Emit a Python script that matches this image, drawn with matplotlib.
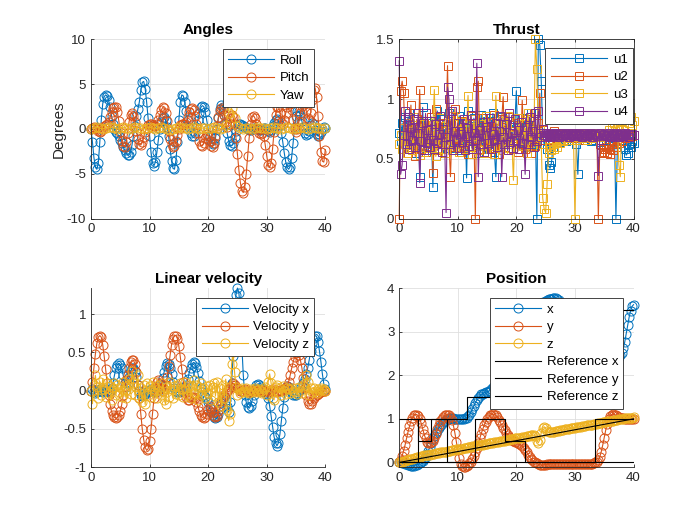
import numpy as np
import matplotlib
matplotlib.use("Agg")
import matplotlib.pyplot as plt
from matplotlib.ticker import FuncFormatter

plt.rcParams["font.family"] = ["Liberation Sans", "DejaVu Sans"]
plt.rcParams["axes.unicode_minus"] = False

# every series is sampled uniformly from 0 to 40 s
# angles (deg), 0.25 s
roll = [0.0, -1.5, -3.2, -4.3, -4.5, -3.8, -1.5, 1.0, 2.8, 3.6, 3.8, 3.7, 3.2, 2.4, 1.5, 0.6, 0.0, -0.3, -0.5, -0.8,
        -1.2, -1.6, -2.0, -2.4, -2.7, -2.9, -2.9, -2.6, -1.8, -0.8, 0.3, 1.4, 2.2, 3.0, 4.3, 5.2, 5.3, 4.5, 3.0, 1.2,
        -0.8, -2.6, -3.8, -4.1, -3.7, -2.6, -1.2, 0.0, 0.8, 1.2, 1.3, 1.0, 0.2, -0.8, -2.2, -3.6, -4.4, -4.5, -3.5, -1.5,
        1.0, 3.0, 3.8, 3.7, 3.0, 2.0, 1.0, 0.2, -0.4, -0.8, -0.8, -0.5, 0.2, 1.0, 1.8, 2.4, 2.6, 2.5, 1.9, 1.0,
        0.0, -0.8, -1.4, -1.7, -1.6, -1.0, 0.0, 1.2, 2.2, 2.7, 2.5, 1.6, 0.5, -0.5, -1.3, -1.8, -1.9, -1.6, -0.9, -0.2,
        0.3, 0.5, 0.5, 0.4, 0.3, 0.2, 0.1, 0.0, -0.1, -0.1, 0.0, 0.1, 0.1, 0.1, 0.0, -0.1, -0.1, 0.0, 0.1, 0.1,
        0.0, -0.2, -0.3, -0.1, 0.3, 0.7, 1.0, 1.1, 0.9, 0.4, -0.4, -1.5, -2.7, -3.7, -4.3, -4.5, -4.2, -3.2, -1.6, 0.2,
        1.5, 2.0, 2.0, 1.6, 0.9, 0.2, -0.4, -0.7, -0.6, -0.2, 0.4, 0.7, 0.5, -0.1, -0.6, -0.8, -0.6, -0.3, 0.0, 0.2,
        0.1]
pitch = [0.0, 0.1, 0.2, 0.1, 0.0, -0.2, -0.3, -0.2, 0.0, 0.3, 0.4, 0.5, 0.8, 1.3, 1.9, 2.3, 2.5, 2.4, 1.9, 0.9,
         -0.3, -1.3, -1.9, -2.0, -1.5, -0.4, 0.8, 1.6, 1.8, 1.5, 0.8, -0.2, -1.1, -1.7, -1.8, -1.5, -0.9, -0.3, 0.1, 0.4,
         0.5, 0.5, 0.4, 0.3, 0.3, 0.5, 1.0, 1.6, 2.1, 2.4, 2.3, 1.8, 0.9, -0.2, -1.1, -1.7, -2.0, -1.9, -1.4, -0.7,
         0.0, 0.4, 0.5, 0.5, 0.6, 0.8, 1.3, 1.9, 2.2, 2.3, 2.1, 1.4, 0.5, -0.5, -1.3, -1.8, -1.9, -1.6, -1.0, -0.6,
         -0.8, -1.4, -1.9, -2.0, -1.6, -0.8, 0.3, 1.3, 2.0, 2.3, 2.2, 1.6, 0.8, 0.2, 0.5, 1.2, 1.6, 1.3, 0.5, -1.0,
         -2.8, -4.6, -6.0, -6.9, -7.1, -6.5, -5.0, -3.0, -1.0, 0.5, 1.3, 1.5, 1.2, 0.6, 0.0, -0.4, -0.6, -0.5, -0.8, -1.8,
         -3.0, -4.0, -4.3, -3.8, -2.2, -0.3, 1.6, 2.4, 2.5, 1.8, 0.8, 0.6, 1.0, 1.8, 2.5, 2.9, 2.8, 2.1, 1.0, 0.0,
         -0.3, 0.0, 0.8, 1.8, 2.6, 3.0, 2.8, 2.0, 1.2, 1.0, 1.8, 3.2, 4.3, 4.6, 3.6, 1.5, -0.8, -2.6, -3.6, -3.7,
         -2.3]
# 0.5 s
yaw = [0.0, 0.1, 0.2, 0.1, 0.0, 0.1, 0.2, 0.2, 0.1, 0.0, 0.1, 0.2, 0.1, 0.0, 0.1, 0.2, 0.1, 0.1, 0.0, 0.1,
       0.2, 0.1, 0.0, 0.1, 0.2, 0.1, 0.0, -0.1, 0.0, 0.1, 0.2, 0.1, 0.1, 0.0, 0.1, 0.2, 0.1, 0.0, 0.1, 0.1,
       0.0, 0.1, 0.2, 0.1, 0.0, 0.1, 0.4, 1.8, 2.3, 1.2, 0.3, 0.1, 0.0, 0.1, 0.1, 0.0, 0.1, 0.2, 0.1, 0.1,
       0.0, 0.1, 0.2, 0.1, 0.1, 0.0, 0.1, 0.2, 0.1, 0.0, 0.1, 0.1, 0.2, 0.1, 0.0, 0.1, 0.2, 0.1, 0.1, 0.0,
       0.1]

# thrust, 0.25 s
u1 = [0.72, 0.65, 0.80, 0.58, 0.85, 0.62, 0.75, 0.88, 0.60, 0.70, 0.82, 0.55, 0.68, 0.78, 0.35, 0.66, 0.93, 0.60, 0.74, 0.57,
      0.80, 0.64, 0.70, 0.26, 0.85, 0.62, 0.90, 0.58, 0.72, 0.66, 0.83, 0.55, 0.77, 0.63, 0.88, 0.59, 0.71, 0.80, 0.60, 0.74,
      0.65, 0.86, 0.57, 0.73, 0.62, 0.80, 0.34, 0.90, 0.66, 0.72, 0.58, 0.84, 0.63, 0.76, 0.55, 0.70, 0.87, 0.61, 0.75, 0.68,
      0.82, 0.58, 0.71, 0.64, 0.88, 0.56, 0.35, 0.79, 0.62, 0.73, 0.85, 0.60, 0.68, 0.77, 0.57, 0.82, 0.66, 0.74, 0.59, 0.80,
      1.07, 0.63, 0.76, 0.58, 0.84, 0.67, 0.72, 0.60, 0.78, 0.65, 0.88, 0.70, 0.62, 0.75, 0.00, 1.50, 1.45, 1.15, 0.70, 0.62,
      0.68, 0.58, 0.45, 0.42, 0.47, 0.60, 0.68, 0.72, 0.66, 0.70, 0.64, 0.71, 0.67, 0.69, 0.65, 0.72, 0.68, 0.70, 0.66, 0.69,
      0.67, 0.62, 0.37, 0.70, 0.68, 0.72, 0.66, 0.69, 0.71, 0.67, 0.70, 0.65, 0.68, 0.72, 0.66, 0.70, 0.69, 0.64, 0.71, 0.68,
      0.70, 0.66, 0.72, 0.68, 0.65, 0.70, 0.67, 0.71, 0.00, 0.62, 0.69, 0.72, 0.66, 0.70, 0.58, 0.53, 0.55, 0.62, 0.60, 0.65,
      0.63]
u2 = [0.00, 1.07, 1.15, 1.05, 0.62, 0.78, 0.55, 0.70, 0.95, 0.60, 0.74, 0.52, 0.83, 0.66, 1.08, 0.58, 0.72, 0.80, 0.56, 0.69,
      0.76, 0.61, 0.85, 0.38, 0.70, 0.92, 0.57, 0.73, 0.64, 0.80, 0.66, 0.55, 0.80, 1.28, 0.62, 0.35, 0.72, 0.60, 0.92, 0.67,
      0.60, 0.74, 0.56, 0.82, 0.68, 0.63, 0.79, 0.54, 0.71, 0.86, 0.60, 0.75, 0.00, 1.10, 1.15, 0.58, 0.70, 0.84, 0.62, 0.77,
      0.55, 0.81, 0.66, 0.72, 0.59, 0.87, 0.63, 0.76, 0.54, 0.70, 0.83, 1.02, 0.60, 0.74, 0.57, 0.85, 0.65, 0.71, 0.58, 0.80,
      0.67, 0.56, 0.78, 0.62, 0.99, 0.70, 0.58, 0.83, 0.64, 0.76, 0.55, 0.72, 0.88, 0.61, 0.69, 0.80, 1.05, 0.66, 0.74, 0.70,
      0.72, 0.68, 0.70, 0.66, 0.71, 0.69, 0.73, 0.67, 0.70, 0.72, 0.68, 0.71, 0.66, 0.70, 0.69, 0.72, 0.67, 0.70, 0.68, 0.71,
      0.69, 0.72, 0.67, 0.70, 0.71, 0.68, 0.70, 0.66, 0.72, 0.69, 0.71, 0.67, 0.70, 0.68, 0.72, 0.69, 0.00, 0.62, 0.55, 0.58,
      0.56, 0.60, 0.55, 0.58, 0.54, 0.62, 0.57, 0.64, 0.60, 0.66, 0.63, 0.68, 0.65, 0.70, 0.67, 0.69, 0.71, 0.68, 0.70, 0.69,
      0.70]
u3 = [0.62, 0.70, 0.58, 0.76, 0.66, 0.55, 0.80, 0.63, 0.72, 0.57, 0.85, 0.68, 0.60, 0.74, 0.53, 0.79, 0.64, 0.56, 0.71, 0.82,
      0.59, 0.73, 0.65, 0.78, 1.08, 0.52, 0.70, 0.62, 0.84, 0.58, 0.75, 0.66, 0.55, 0.80, 0.63, 0.71, 0.57, 0.86, 0.64, 0.69,
      0.74, 0.56, 0.81, 0.62, 0.70, 0.58, 0.77, 1.03, 0.60, 0.72, 0.54, 0.83, 0.65, 0.69, 0.57, 0.79, 0.61, 0.74, 0.55, 0.86,
      0.63, 0.71, 0.58, 0.80, 0.66, 0.54, 1.03, 0.68, 0.75, 0.60, 0.82, 0.57, 0.73, 0.64, 0.86, 0.59, 0.70, 0.62, 0.32, 0.77,
      0.65, 0.84, 0.58, 0.72, 0.61, 0.79, 0.66, 0.55, 0.88, 0.63, 0.74, 0.60, 0.70, 1.50, 1.25, 0.68, 0.75, 0.62, 0.17, 0.08,
      0.05, 0.29, 0.55, 0.60, 0.57, 0.62, 0.58, 0.64, 0.60, 0.66, 0.63, 0.68, 0.65, 0.70, 0.67, 0.69, 0.66, 0.71, 0.68, 0.70,
      0.00, 0.66, 0.70, 0.68, 0.72, 0.67, 0.70, 0.69, 0.66, 0.71, 0.68, 0.70, 0.67, 0.72, 0.69, 0.68, 0.71, 0.66, 0.70, 0.69,
      0.72, 0.68, 0.70, 0.74, 0.69, 0.76, 0.71, 0.80, 0.72, 0.78, 0.45, 0.35, 0.82, 0.74, 0.90, 0.85, 0.93, 0.80, 0.85, 0.78,
      0.82]
u4 = [1.32, 0.37, 0.45, 0.70, 0.90, 0.62, 0.85, 0.58, 0.76, 0.66, 0.83, 0.60, 0.72, 0.88, 0.30, 0.65, 0.80, 0.57, 0.88, 0.63,
      0.74, 0.60, 0.82, 0.66, 0.58, 0.79, 0.63, 0.71, 0.86, 0.56, 0.75, 0.68, 0.05, 1.10, 1.00, 0.62, 0.90, 0.57, 0.73, 0.66,
      0.80, 0.59, 0.71, 0.64, 0.83, 0.57, 0.69, 0.76, 0.61, 0.87, 0.58, 0.72, 0.66, 1.30, 0.35, 0.74, 0.62, 0.81, 0.56, 0.70,
      0.77, 0.63, 0.84, 0.58, 0.71, 0.66, 0.80, 0.60, 0.73, 0.86, 0.35, 0.68, 0.62, 0.79, 0.57, 0.88, 0.64, 0.72, 0.59, 0.83,
      0.66, 0.74, 0.58, 0.81, 0.63, 0.70, 0.37, 0.77, 0.62, 0.85, 0.68, 0.73, 0.60, 0.88, 0.65, 0.90, 0.72, 0.68, 0.75, 0.70,
      0.72, 0.69, 0.71, 0.68, 0.70, 0.72, 0.69, 0.71, 0.70, 0.68, 0.72, 0.70, 0.69, 0.71, 0.70, 0.72, 0.68, 0.70, 0.71, 0.69,
      0.70, 0.72, 0.69, 0.71, 0.70, 0.68, 0.72, 0.70, 0.69, 0.71, 0.70, 0.72, 0.68, 0.70, 0.71, 0.69, 0.36, 0.72, 0.66, 0.70,
      0.71, 0.69, 0.70, 0.72, 0.68, 0.70, 0.71, 0.69, 0.72, 0.70, 0.68, 0.71, 0.70, 0.69, 0.72, 0.70, 0.71, 0.68, 0.70, 0.71,
      0.70]

# linear velocity, 0.25 s
vel_x = [0.0, 0.02, 0.0, -0.03, -0.02, 0.0, 0.02, 0.0, -0.02, 0.0, 0.02, 0.0, -0.02, 0.0, 0.04, 0.10, 0.20, 0.29, 0.34, 0.36,
         0.34, 0.29, 0.20, 0.10, 0.05, 0.10, 0.18, 0.25, 0.30, 0.30, 0.26, 0.18, 0.08, 0.0, -0.05, -0.07, -0.06, -0.04, -0.02, 0.0,
         0.01, 0.02, 0.0, -0.02, 0.0, 0.01, 0.0, 0.03, 0.08, 0.16, 0.25, 0.32, 0.36, 0.35, 0.30, 0.22, 0.12, 0.04, 0.0, -0.02,
         -0.02, 0.0, 0.0, 0.02, 0.04, 0.08, 0.15, 0.23, 0.30, 0.35, 0.37, 0.36, 0.31, 0.23, 0.13, 0.04, -0.02, -0.05, -0.08, -0.11,
         -0.15, -0.22, -0.28, -0.32, -0.35, -0.36, -0.35, -0.31, -0.24, -0.16, -0.10, -0.08, -0.12, -0.20, -0.28, -0.15, 0.10, 0.45, 0.90, 1.25,
         1.34, 1.28, 1.00, 0.60, 0.20, -0.05, -0.15, -0.21, -0.23, -0.20, -0.13, -0.05, 0.02, 0.07, 0.09, 0.08, 0.05, 0.02, 0.0, -0.03,
         -0.04, -0.10, -0.20, -0.33, -0.47, -0.60, -0.68, -0.72, -0.68, -0.57, -0.40, -0.22, -0.08, 0.02, 0.06, 0.05, 0.02, -0.02, -0.05, -0.06,
         -0.05, -0.03, 0.0, 0.03, 0.06, 0.10, 0.15, 0.22, 0.30, 0.40, 0.52, 0.62, 0.69, 0.72, 0.71, 0.64, 0.52, 0.38, 0.22, 0.09,
         0.02]
vel_y = [0.0, 0.12, 0.30, 0.48, 0.62, 0.70, 0.72, 0.70, 0.60, 0.45, 0.28, 0.10, -0.06, -0.18, -0.27, -0.32, -0.35, -0.36, -0.35, -0.32,
         -0.27, -0.18, -0.06, 0.06, 0.14, 0.20, 0.30, 0.37, 0.40, 0.40, 0.35, 0.24, 0.08, -0.10, -0.30, -0.50, -0.64, -0.74, -0.78, -0.76,
         -0.66, -0.50, -0.30, -0.10, 0.05, 0.12, 0.14, 0.10, 0.03, 0.0, 0.02, 0.08, 0.18, 0.32, 0.47, 0.60, 0.68, 0.72, 0.72, 0.68,
         0.58, 0.44, 0.28, 0.12, 0.0, -0.08, -0.12, -0.12, -0.10, -0.08, -0.08, -0.10, -0.15, -0.21, -0.27, -0.32, -0.35, -0.36, -0.34, -0.30,
         -0.24, -0.20, -0.22, -0.28, -0.33, -0.35, -0.33, -0.27, -0.20, -0.13, -0.08, -0.05, -0.03, 0.0, 0.02, 0.05, 0.08, 0.10, 0.08, 0.05,
         0.03, 0.02, 0.0, -0.01, 0.0, 0.02, 0.01, 0.0, -0.02, -0.01, 0.0, 0.01, 0.0, -0.01, 0.0, 0.01, 0.0, -0.01, 0.0, 0.01,
         0.0, -0.02, -0.01, 0.01, 0.02, 0.0, -0.02, -0.01, 0.0, 0.01, 0.0, 0.02, 0.02, 0.03, 0.06, 0.12, 0.20, 0.29, 0.37, 0.44,
         0.49, 0.50, 0.47, 0.40, 0.30, 0.17, 0.04, -0.06, -0.13, -0.17, -0.17, -0.14, -0.10, -0.07, -0.05, -0.04, -0.03, -0.02, -0.01, 0.0,
         0.0]
vel_z = [0.0, -0.17, 0.08, 0.20, 0.05, -0.10, 0.12, -0.05, 0.15, 0.02, -0.08, 0.10, -0.03, 0.06, -0.12, 0.04, 0.10, -0.06, 0.08, -0.02,
         0.05, -0.08, 0.12, 0.0, -0.10, 0.08, 0.15, -0.04, 0.26, 0.10, -0.06, 0.05, 0.20, -0.10, 0.03, -0.15, 0.08, -0.18, 0.10, -0.05,
         0.06, -0.08, 0.12, -0.02, 0.05, -0.10, 0.08, 0.0, -0.06, 0.10, -0.12, -0.18, 0.05, -0.08, 0.12, 0.02, -0.10, 0.06, -0.04, 0.08,
         -0.06, 0.10, 0.02, -0.08, 0.12, 0.04, -0.05, 0.08, -0.10, 0.06, 0.14, -0.03, 0.07, -0.12, 0.05, 0.10, -0.06, 0.03, -0.09, 0.06,
         -0.03, 0.08, -0.12, 0.05, 0.10, -0.07, 0.12, -0.15, 0.04, -0.20, 0.08, -0.10, 0.15, -0.25, -0.39, -0.30, 0.35, 0.50, 0.25, 0.05,
         -0.05, 0.02, -0.03, 0.04, 0.0, -0.02, 0.03, 0.0, -0.03, 0.02, 0.0, -0.02, 0.03, 0.01, -0.02, 0.02, 0.0, -0.03, 0.02, 0.05,
         -0.05, 0.12, 0.22, 0.10, -0.10, -0.12, 0.05, 0.08, -0.02, 0.03, -0.05, 0.06, 0.0, -0.04, 0.03, 0.02, -0.03, 0.04, 0.0, -0.02,
         0.03, -0.04, 0.05, 0.0, -0.03, 0.06, 0.10, 0.20, 0.12, -0.05, 0.04, -0.02, 0.03, 0.0, -0.03, 0.02, 0.0, 0.03, 0.01, 0.02,
         0.0]

# position, 0.25 s
pos_x = [0.0, 0.0, -0.01, -0.02, -0.03, -0.04, -0.05, -0.06, -0.07, -0.07, -0.07, -0.06, -0.05, -0.04, -0.02, 0.0, 0.03, 0.07, 0.12, 0.19,
         0.27, 0.36, 0.45, 0.53, 0.60, 0.67, 0.73, 0.79, 0.84, 0.88, 0.92, 0.95, 0.97, 0.99, 1.0, 1.01, 1.01, 1.01, 1.0, 1.0,
         1.0, 0.99, 0.99, 0.99, 1.0, 1.01, 1.03, 1.06, 1.10, 1.16, 1.23, 1.30, 1.37, 1.43, 1.48, 1.52, 1.56, 1.58, 1.60, 1.61,
         1.62, 1.63, 1.65, 1.68, 1.72, 1.76, 1.81, 1.87, 1.93, 2.0, 2.07, 2.15, 2.22, 2.30, 2.38, 2.46, 2.54, 2.62, 2.70, 2.77,
         2.84, 2.91, 2.97, 3.03, 3.09, 3.15, 3.20, 3.25, 3.30, 3.35, 3.40, 3.45, 3.50, 3.54, 3.58, 3.61, 3.64, 3.66, 3.68, 3.69,
         3.70, 3.72, 3.74, 3.75, 3.76, 3.77, 3.78, 3.77, 3.76, 3.73, 3.69, 3.64, 3.58, 3.51, 3.43, 3.35, 3.26, 3.17, 3.08, 2.99,
         2.90, 2.81, 2.73, 2.65, 2.58, 2.51, 2.45, 2.40, 2.35, 2.31, 2.28, 2.25, 2.23, 2.21, 2.20, 2.19, 2.18, 2.18, 2.18, 2.19,
         2.20, 2.21, 2.22, 2.23, 2.25, 2.27, 2.29, 2.31, 2.34, 2.37, 2.41, 2.46, 2.52, 2.62, 2.76, 2.95, 3.15, 3.33, 3.48, 3.58,
         3.62]
pos_y = [0.0, 0.06, 0.15, 0.27, 0.40, 0.55, 0.70, 0.83, 0.95, 1.03, 1.08, 1.10, 1.10, 1.07, 1.0, 0.90, 0.77, 0.65, 0.55, 0.48,
         0.45, 0.44, 0.46, 0.50, 0.57, 0.66, 0.76, 0.86, 0.94, 1.0, 1.05, 1.08, 1.10, 1.10, 1.09, 1.05, 0.97, 0.85, 0.68, 0.48,
         0.28, 0.10, -0.03, -0.09, -0.11, -0.10, -0.08, -0.05, -0.02, 0.02, 0.07, 0.14, 0.23, 0.33, 0.44, 0.55, 0.66, 0.76, 0.85, 0.93,
         0.99, 1.04, 1.08, 1.10, 1.11, 1.10, 1.08, 1.04, 0.98, 0.92, 0.86, 0.80, 0.74, 0.68, 0.63, 0.59, 0.55, 0.52, 0.50, 0.48,
         0.47, 0.45, 0.43, 0.40, 0.37, 0.33, 0.28, 0.23, 0.18, 0.13, 0.09, 0.05, 0.02, 0.0, -0.02, -0.04, -0.05, -0.06, -0.06, -0.05,
         -0.05, -0.04, -0.04, -0.03, -0.03, -0.03, -0.03, -0.03, -0.03, -0.03, -0.03, -0.03, -0.03, -0.03, -0.03, -0.03, -0.03, -0.03, -0.03, -0.03,
         -0.03, -0.03, -0.03, -0.03, -0.03, -0.03, -0.03, -0.03, -0.03, -0.03, -0.03, -0.03, -0.03, -0.02, 0.0, 0.02, 0.06, 0.13, 0.25, 0.40,
         0.57, 0.74, 0.88, 0.99, 1.06, 1.10, 1.11, 1.10, 1.08, 1.06, 1.04, 1.03, 1.02, 1.01, 1.0, 1.0, 1.0, 1.0, 1.0, 1.0,
         1.0]
pos_z = [0.0, 0.01, 0.02, 0.03, 0.04, 0.05, 0.06, 0.07, 0.08, 0.09, 0.10, 0.11, 0.12, 0.12, 0.13, 0.14, 0.15, 0.16, 0.16, 0.17,
         0.18, 0.18, 0.19, 0.20, 0.20, 0.21, 0.22, 0.22, 0.23, 0.24, 0.24, 0.25, 0.25, 0.26, 0.27, 0.27, 0.28, 0.29, 0.29, 0.30,
         0.30, 0.31, 0.32, 0.32, 0.33, 0.34, 0.34, 0.35, 0.35, 0.36, 0.37, 0.37, 0.38, 0.39, 0.39, 0.40, 0.40, 0.41, 0.42, 0.42,
         0.43, 0.44, 0.44, 0.45, 0.45, 0.46, 0.47, 0.47, 0.48, 0.49, 0.49, 0.50, 0.50, 0.51, 0.52, 0.52, 0.53, 0.54, 0.54, 0.55,
         0.55, 0.56, 0.57, 0.57, 0.58, 0.59, 0.59, 0.60, 0.60, 0.61, 0.62, 0.62, 0.63, 0.60, 0.50, 0.45, 0.52, 0.68, 0.80, 0.82,
         0.78, 0.72, 0.69, 0.69, 0.70, 0.71, 0.71, 0.72, 0.72, 0.73, 0.74, 0.74, 0.75, 0.76, 0.76, 0.77, 0.77, 0.78, 0.79, 0.79,
         0.80, 0.81, 0.81, 0.82, 0.82, 0.83, 0.84, 0.84, 0.85, 0.86, 0.86, 0.87, 0.87, 0.88, 0.89, 0.89, 0.90, 0.91, 0.91, 0.92,
         0.92, 0.93, 0.94, 0.94, 0.95, 0.96, 0.96, 0.97, 0.97, 0.98, 0.99, 0.99, 1.0, 1.0, 1.01, 1.01, 1.02, 1.02, 1.03, 1.03,
         1.04]

# step references (switch times, values held until next switch)
ref_x_t = [0, 3.2, 11.5, 20, 28, 37.5, 40]
ref_x_v = [0, 1, 1.5, 3.5, 2, 3.5, 3.5]
ref_y_t = [0, 3.2, 5.5, 8.2, 13, 18, 21.5, 33.5, 40]
ref_y_v = [1, 0.5, 1, 0, 1, 0.5, 0, 1, 1]
ref_z_t = [0, 40]
ref_z_v = [0, 1]
ref_yaw_t = [0, 40]
ref_yaw_v = [0, 0]

BLUE, ORANGE, YELLOW, PURPLE = "#0072BD", "#D95319", "#EDB120", "#7E2F8E"
DARK = "#262626"


def times(v):
    return np.linspace(0, 40, len(v))


def style_axes(ax, box=False):
    ax.set_xlim(0, 40)
    ax.set_xticks([0, 10, 20, 30, 40])
    ax.grid(True, color="#dfdfdf", lw=0.6)
    ax.set_axisbelow(True)
    for s in ax.spines.values():
        s.set_color(DARK)
        s.set_linewidth(0.6)
    if not box:
        ax.spines["top"].set_visible(False)
        ax.spines["right"].set_visible(False)
    ax.tick_params(direction="in", length=2.3, width=0.6, colors=DARK,
                   labelsize=9.5, top=box, right=box)
    ax.yaxis.set_major_formatter(FuncFormatter(lambda v, p: f"{v:g}"))


def add_legend(ax, anchor, hl=3.5):
    leg = ax.legend(loc="upper right", bbox_to_anchor=anchor, fontsize=9.5,
                    handlelength=hl, handletextpad=0.4, borderpad=0.4,
                    labelspacing=0.4, borderaxespad=0, fancybox=False,
                    framealpha=1, edgecolor=DARK)
    leg.get_frame().set_linewidth(0.6)


def circ(ax, v, color, label):
    ax.plot(times(v), v, "-o", color=color, lw=0.8, ms=6.5, mfc="none",
            mew=0.7, label=label, clip_on=False)


fig = plt.figure(figsize=(7, 5.25), dpi=100)
ax1 = fig.add_axes([0.13, 0.5838, 0.3347, 0.3412])
ax2 = fig.add_axes([0.5703, 0.5838, 0.3347, 0.3412])
ax3 = fig.add_axes([0.13, 0.11, 0.3347, 0.3412])
ax4 = fig.add_axes([0.5703, 0.11, 0.3347, 0.3412])

# Angles
circ(ax1, roll, BLUE, "Roll")
circ(ax1, pitch, ORANGE, "Pitch")
circ(ax1, yaw, YELLOW, "Yaw")
style_axes(ax1)
ax1.set_ylim(-10, 10)
ax1.set_yticks([-10, -5, 0, 5, 10])
ax1.set_ylabel("Degrees", fontsize=11, color=DARK, labelpad=1)
ax1.set_title("Angles", fontsize=11, fontweight="bold", pad=4)
add_legend(ax1, (0.953, 0.944))

# Thrust
for v, c, lab in [(u1, BLUE, "u1"), (u2, ORANGE, "u2"), (u3, YELLOW, "u3"), (u4, PURPLE, "u4")]:
    ax2.plot(times(v), v, "-s", color=c, lw=0.8, ms=5.8, mfc="none", mew=0.7,
             label=lab, clip_on=False)
style_axes(ax2, box=True)
ax2.set_ylim(0, 1.5)
ax2.set_yticks([0, 0.5, 1, 1.5])
ax2.set_title("Thrust", fontsize=11, fontweight="bold", pad=4)
add_legend(ax2, (0.997, 0.95), hl=4.3)

# Linear velocity
circ(ax3, vel_x, BLUE, "Velocity x")
circ(ax3, vel_y, ORANGE, "Velocity y")
circ(ax3, vel_z, YELLOW, "Velocity z")
style_axes(ax3)
ax3.set_ylim(-1, max(vel_x))
ax3.set_yticks([-1, -0.5, 0, 0.5, 1])
ax3.set_title("Linear velocity", fontsize=11, fontweight="bold", pad=4)
add_legend(ax3, (0.953, 0.944))

# Position
circ(ax4, pos_x, BLUE, "x")
circ(ax4, pos_y, ORANGE, "y")
circ(ax4, pos_z, YELLOW, "z")
ax4.plot(ref_x_t, ref_x_v, color="k", lw=0.8, drawstyle="steps-post", label="Reference x")
ax4.plot(ref_y_t, ref_y_v, color="k", lw=0.8, drawstyle="steps-post", label="Reference y")
ax4.plot(ref_z_t, ref_z_v, color="k", lw=0.8, label="Reference z")
ax4.plot(ref_yaw_t, ref_yaw_v, color="k", lw=0.8)
style_axes(ax4)
ax4.set_ylim(min(pos_y), 4)
ax4.set_yticks([0, 1, 2, 3, 4])
ax4.set_title("Position", fontsize=11, fontweight="bold", pad=4)
add_legend(ax4, (0.957, 0.944))

fig.savefig("out.png", dpi=100)
